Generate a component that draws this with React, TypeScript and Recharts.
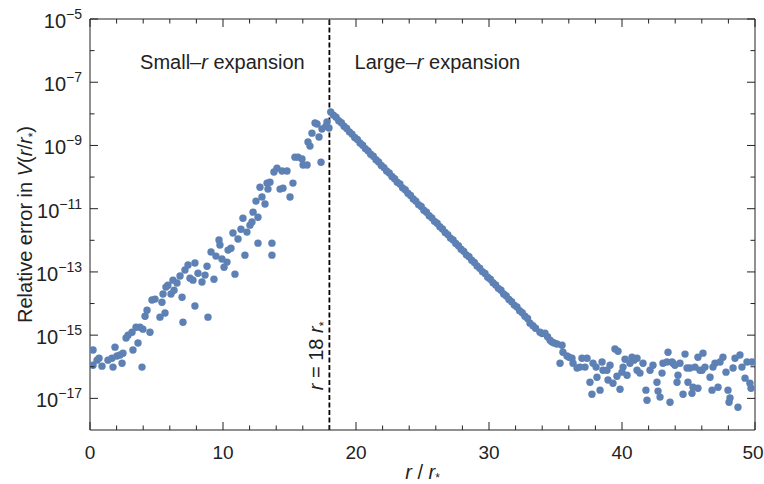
import React from 'react';
import { ScatterChart, Scatter, XAxis, YAxis, ReferenceLine } from 'recharts';

// [r / r*, log10(relative error)]
const smallR: [number, number][] = [
  [0.23, -15.47], [0.23, -15.95], [0.53, -15.79], [0.68, -15.73], [0.9, -15.98], [1.35, -15.79],
  [1.65, -15.73], [1.73, -16.01], [1.88, -15.38], [2.03, -15.66], [2.26, -15.63], [2.48, -15.57],
  [2.41, -15.89], [2.71, -15.09], [2.86, -15.0], [3.16, -14.91], [3.23, -15.47], [3.46, -14.75],
  [3.61, -15.25], [3.76, -14.75], [3.91, -16.01], [3.98, -14.81], [4.14, -14.4], [4.29, -14.21],
  [4.51, -14.91], [4.66, -13.89], [4.89, -13.86], [5.26, -14.43], [5.41, -13.96], [5.49, -13.7],
  [5.64, -14.3], [5.71, -13.48], [5.86, -13.42], [6.09, -13.7], [6.24, -13.26], [6.32, -13.58],
  [6.54, -13.35], [6.77, -13.13], [6.92, -13.8], [6.99, -14.59], [7.14, -12.94], [7.37, -12.78],
  [7.52, -13.2], [7.74, -13.26], [7.89, -14.08], [7.89, -12.72], [8.12, -13.04], [8.42, -13.32],
  [8.65, -13.1], [8.8, -12.82], [8.87, -14.43], [9.1, -12.37], [9.32, -13.23], [9.47, -12.5],
  [9.7, -11.99], [9.77, -12.15], [9.92, -12.59], [10.08, -12.85], [10.3, -12.69], [10.38, -12.31],
  [10.6, -12.25], [10.9, -13.07], [10.75, -11.77], [11.13, -11.96], [11.35, -11.65], [11.5, -11.3],
  [11.65, -12.47], [11.8, -11.74], [12.03, -11.52], [12.18, -11.42], [12.26, -11.11], [12.48, -10.76],
  [12.63, -12.09], [12.63, -11.27], [12.78, -10.32], [12.93, -10.63], [13.16, -10.85], [13.31, -10.19],
  [13.38, -10.38], [13.53, -10.16], [13.68, -12.47], [13.68, -12.09], [13.83, -9.84], [14.06, -9.72],
  [14.29, -10.38], [14.44, -9.81], [14.51, -10.35], [14.81, -9.81], [15.04, -10.63], [15.26, -10.19],
  [15.41, -9.37], [15.64, -9.37], [15.94, -9.43], [16.02, -9.62], [16.32, -9.62], [16.39, -8.89],
  [16.54, -9.02], [16.69, -8.61], [16.92, -8.29], [17.07, -8.32], [17.22, -8.73], [17.44, -8.48],
  [17.37, -9.53], [17.74, -8.39], [17.82, -8.26], [17.97, -8.45],
];

const largeR: [number, number][] = [
  [18.1, -7.94], [18.3, -8.04], [18.5, -8.11], [18.7, -8.22], [18.9, -8.28], [19.1, -8.39],
  [19.3, -8.46], [19.5, -8.57], [19.7, -8.64], [19.9, -8.75], [20.1, -8.81], [20.3, -8.92],
  [20.5, -8.99], [20.7, -9.1], [20.9, -9.17], [21.1, -9.28], [21.3, -9.34], [21.5, -9.45],
  [21.7, -9.52], [21.9, -9.63], [22.1, -9.7], [22.3, -9.81], [22.5, -9.87], [22.7, -9.98],
  [22.9, -10.05], [23.1, -10.16], [23.3, -10.22], [23.5, -10.34], [23.7, -10.4], [23.9, -10.51],
  [24.1, -10.58], [24.3, -10.69], [24.5, -10.76], [24.7, -10.87], [24.9, -10.93], [25.1, -11.05],
  [25.3, -11.11], [25.5, -11.22], [25.7, -11.29], [25.9, -11.4], [26.1, -11.46], [26.3, -11.57],
  [26.5, -11.64], [26.7, -11.75], [26.9, -11.82], [27.1, -11.93], [27.3, -11.99], [27.5, -12.1],
  [27.7, -12.17], [27.9, -12.28], [28.1, -12.35], [28.3, -12.46], [28.5, -12.52], [28.7, -12.63],
  [28.9, -12.7], [29.1, -12.81], [29.3, -12.88], [29.5, -12.99], [29.7, -13.05], [29.9, -13.17],
  [30.1, -13.23], [30.3, -13.34], [30.5, -13.41], [30.7, -13.52], [30.9, -13.58], [31.1, -13.7],
  [31.3, -13.76], [31.5, -13.87], [31.7, -13.94], [31.9, -14.05], [32.1, -14.11], [32.3, -14.23],
  [32.5, -14.29], [32.7, -14.4], [32.9, -14.47], [33.08, -14.62], [33.3, -14.7], [33.5, -14.78],
  [33.83, -14.91], [34.0, -14.95], [34.21, -14.94], [34.4, -15.05], [34.59, -15.16], [34.74, -15.22],
  [34.9, -15.25], [35.11, -15.28], [35.34, -15.89], [35.49, -15.32], [35.56, -15.54], [35.86, -15.66],
  [36.02, -15.7], [36.24, -15.73], [36.32, -15.89], [36.62, -16.04], [36.84, -16.01], [36.99, -15.73],
  [37.22, -16.01], [37.37, -15.73], [37.59, -16.49], [37.74, -16.87], [37.82, -15.89], [38.05, -16.01],
  [38.12, -16.33], [38.35, -16.74], [38.5, -15.85], [38.57, -16.11], [38.87, -16.11], [38.95, -16.42],
  [39.1, -15.95], [39.32, -16.52], [39.47, -15.44], [39.7, -15.51], [39.62, -16.3], [39.85, -16.71],
  [40.0, -16.17], [40.08, -16.01], [40.23, -15.76], [40.38, -16.27], [40.6, -15.89], [40.75, -15.7],
  [40.9, -15.79], [41.13, -15.73], [41.13, -16.11], [41.35, -16.2], [41.58, -15.89], [41.88, -17.06],
  [41.8, -16.74], [42.11, -16.11], [42.33, -15.95], [42.63, -16.49], [42.71, -16.77], [42.86, -16.96],
  [43.01, -16.2], [43.08, -15.89], [43.38, -15.85], [43.46, -15.54], [43.61, -17.12], [43.76, -15.85],
  [43.83, -15.89], [43.98, -15.95], [44.14, -16.49], [44.21, -16.27], [44.36, -15.89], [44.59, -16.87],
  [44.74, -15.6], [44.89, -16.04], [44.96, -16.49], [45.11, -16.04], [45.26, -16.84], [45.34, -16.65],
  [45.49, -16.01], [45.71, -16.68], [45.71, -15.7], [45.86, -16.11], [46.09, -15.57], [46.02, -16.11],
  [46.24, -16.01], [46.62, -16.33], [46.77, -16.74], [46.84, -16.01], [46.99, -15.89], [47.22, -16.65],
  [47.37, -15.85], [47.59, -15.7], [47.82, -16.17], [47.97, -16.74], [48.12, -16.99], [48.05, -17.12],
  [48.35, -16.04], [48.5, -15.73], [48.72, -17.28], [48.87, -15.63], [49.02, -16.01], [49.25, -16.36],
  [49.4, -15.85], [49.62, -16.52], [49.77, -15.85], [49.7, -16.68],
];

const xTicks = [0, 2, 4, 6, 8, 10, 12, 14, 16, 18, 20, 22, 24, 26, 28, 30, 32, 34, 36, 38, 40, 42, 44, 46, 48, 50];
const yTicks = [1e-17, 1e-16, 1e-15, 1e-14, 1e-13, 1e-12, 1e-11, 1e-10, 1e-9, 1e-8, 1e-7, 1e-6, 1e-5];

const points = [...smallR, ...largeR].map(([r, e]) => ({ r, err: Math.pow(10, e) }));

const W = 764;
const H = 484;
const TOP = 19;
const RIGHT = 755;
const FONT = '"Liberation Sans", Arial, sans-serif';
const FS = 20;
const INK = '#222';
const DOT = '#5E81B5';

function XTick({ x, y, payload }: any) {
  const v = payload.value;
  const major = v % 10 === 0;
  const len = major ? 8 : 4.5;
  return (
    <g>
      <line x1={x} y1={y} x2={x} y2={y - len} stroke={INK} />
      <line x1={x} y1={TOP} x2={x} y2={TOP + len} stroke={INK} />
      {major && (
        <text x={v === 50 ? x - 2 : x} y={y + 29} textAnchor="middle" fontSize={19} fontFamily={FONT} fill={INK}>
          {v}
        </text>
      )}
    </g>
  );
}

function YTick({ x, y, payload }: any) {
  const n = Math.round(Math.log10(payload.value));
  const major = n % 2 !== 0;
  const len = major ? 8 : 4.5;
  return (
    <g>
      <line x1={x} y1={y} x2={x + len} y2={y} stroke={INK} />
      <line x1={RIGHT} y1={y} x2={RIGHT - len} y2={y} stroke={INK} />
      {major && (
        <text x={x - 8} y={y + 9} textAnchor="end" fontSize={FS} fontFamily={FONT} fill={INK}>
          <tspan>10</tspan>
          <tspan dy={-9} fontSize={14}>{'\u2212' + Math.abs(n)}</tspan>
        </text>
      )}
    </g>
  );
}

function Dot({ cx, cy }: any) {
  return <circle cx={cx} cy={cy} r={3.7} fill={DOT} />;
}

function Notes({ viewBox }: any) {
  const x = viewBox.x;
  return (
    <g fontFamily={FONT} fill={INK} fontSize={FS}>
      <text x={x - 107} y={69} textAnchor="middle">
        Small–<tspan fontStyle="italic">r</tspan> expansion
      </text>
      <text x={x + 108} y={69} textAnchor="middle">
        Large–<tspan fontStyle="italic">r</tspan> expansion
      </text>
      <text x={x - 6} y={356} textAnchor="middle" transform={`rotate(-90 ${x - 6} 356)`}>
        <tspan fontStyle="italic">r</tspan> = 18 <tspan fontStyle="italic">r</tspan>
        <tspan fontSize={12} dy={5}>*</tspan>
      </text>
    </g>
  );
}

function XTitle({ viewBox }: any) {
  const cx = viewBox.x + viewBox.width / 2;
  return (
    <text x={cx} y={viewBox.y + 49} textAnchor="middle" fontSize={FS} fontFamily={FONT} fill={INK}>
      <tspan fontStyle="italic">r</tspan> / <tspan fontStyle="italic">r</tspan>
      <tspan fontSize={12} dy={3}>*</tspan>
    </text>
  );
}

function YTitle({ viewBox }: any) {
  const cx = 32;
  const cy = viewBox.y + viewBox.height / 2;
  return (
    <text x={cx} y={cy} textAnchor="middle" fontSize={FS} fontFamily={FONT} fill={INK} transform={`rotate(-90 ${cx} ${cy})`}>
      Relative error in <tspan fontStyle="italic">V</tspan>(<tspan fontStyle="italic">r</tspan>/<tspan fontStyle="italic">r</tspan>
      <tspan fontSize={12} dy={5}>*</tspan>
      <tspan dy={-5}>)</tspan>
    </text>
  );
}

export default function App() {
  return (
    <div style={{ width: W, height: H, background: '#fff' }}>
      <style>{'body{margin:0}'}</style>
      <ScatterChart width={W} height={H} margin={{ top: TOP, right: W - RIGHT, bottom: 0, left: 10 }}>
        <XAxis
          type="number"
          dataKey="r"
          domain={[0, 50]}
          ticks={xTicks}
          interval={0}
          allowDataOverflow
          height={54}
          tickSize={0}
          tickMargin={0}
          tickLine={false}
          axisLine={{ stroke: INK }}
          tick={<XTick />}
          label={{ content: <XTitle /> }}
        />
        <YAxis
          type="number"
          dataKey="err"
          scale="log"
          domain={[1e-18, 1e-5]}
          ticks={yTicks}
          interval={0}
          allowDataOverflow
          width={80}
          tickSize={0}
          tickMargin={0}
          tickLine={false}
          axisLine={{ stroke: INK }}
          tick={<YTick />}
          label={{ content: <YTitle /> }}
        />
        <ReferenceLine y={1e-5} stroke={INK} ifOverflow="visible" />
        <ReferenceLine x={50} stroke={INK} ifOverflow="visible" />
        <Scatter data={points} shape={<Dot />} isAnimationActive={false} />
        <ReferenceLine x={18} stroke="#000" strokeWidth={1.8} strokeDasharray="5 2.5" label={{ content: <Notes /> }} />
      </ScatterChart>
    </div>
  );
}
